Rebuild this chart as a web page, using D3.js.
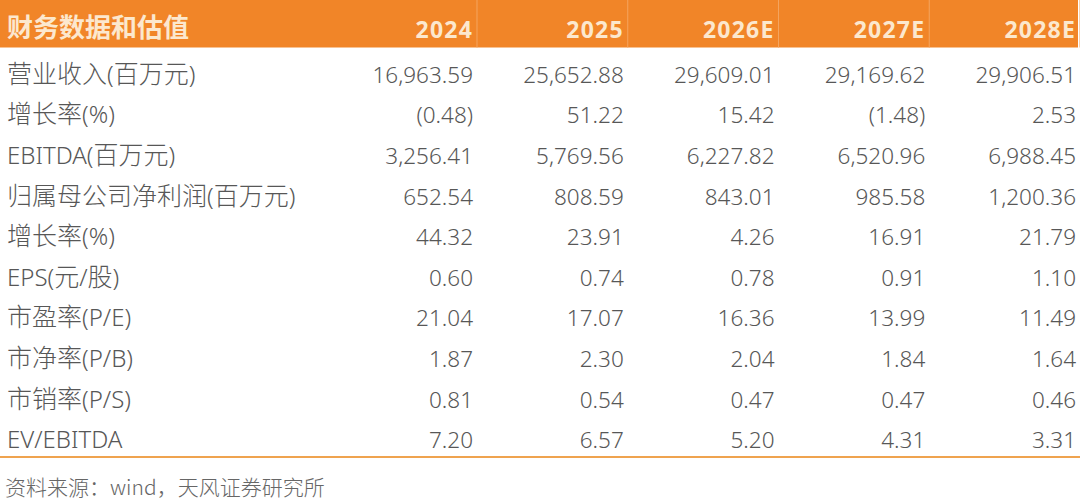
<!DOCTYPE html>
<html><head><meta charset="utf-8">
<script src="https://cdn.jsdelivr.net/npm/d3@7/dist/d3.min.js"></script>
<style>body{margin:0;background:#fff}svg{display:block}</style>
</head><body>
<svg id="c" width="1080" height="500"></svg>
<script>
const title = "财务数据和估值";
const years = ["2024","2025","2026E","2027E","2028E"];
const metrics = ["营业收入(百万元)","增长率(%)","EBITDA(百万元)","归属母公司净利润(百万元)","增长率(%)","EPS(元/股)","市盈率(P/E)","市净率(P/B)","市销率(P/S)","EV/EBITDA"];
const v2024 = ["16,963.59","(0.48)","3,256.41","652.54","44.32","0.60","21.04","1.87","0.81","7.20"];
const v2025 = ["25,652.88","51.22","5,769.56","808.59","23.91","0.74","17.07","2.30","0.54","6.57"];
const v2026 = ["29,609.01","15.42","6,227.82","843.01","4.26","0.78","16.36","2.04","0.47","5.20"];
const v2027 = ["29,169.62","(1.48)","6,520.96","985.58","16.91","0.91","13.99","1.84","0.47","4.31"];
const v2028 = ["29,906.51","2.53","6,988.45","1,200.36","21.79","1.10","11.49","1.64","0.46","3.31"];
const source = "资料来源：wind，天风证券研究所";

const cols = [v2024,v2025,v2026,v2027,v2028];
const svg = d3.select("#c");
const font = "'Noto Sans CJK SC','Noto Sans',sans-serif";
const latin = "'Noto Sans','Noto Sans CJK SC',sans-serif";
const txt = "#575757";

const xr = d3.scalePoint().domain(years).range([473,1076]);
const y = d3.scaleBand().domain(d3.range(metrics.length)).range([54.2,460.2]);
const base = i => y(i) + y.bandwidth()/2 + 8.3;

// header
svg.append("rect").attr("x",0).attr("y",0).attr("width",1078).attr("height",47.5).attr("fill","#F18528");
svg.selectAll("line.sep").data(years).join("line").attr("class","sep")
  .attr("x1",d=>xr(d)+4).attr("x2",d=>xr(d)+4).attr("y1",0).attr("y2",47.5)
  .attr("stroke","#F4A45E").attr("stroke-width",1);
svg.append("text").attr("x",7).attr("y",36.5).text(title)
  .attr("font-family",font).attr("font-size",26).attr("font-weight","bold").attr("fill","#FCE8CE");
svg.selectAll("text.yr").data(years).join("text").attr("class","yr")
  .attr("x",d=>xr(d)).attr("y",38).attr("text-anchor","end").text(d=>d)
  .attr("font-family",latin).attr("font-size",23).attr("letter-spacing",1.2).attr("font-weight","bold").attr("fill","#FCE8CE");

// row labels: CJK runs and Latin runs sized separately
function runs(s){
  const out=[]; let cur=null;
  for(const ch of s){
    const cjk=/[\u3000-\u9fff\uff00-\uffef]/.test(ch);
    if(!cur||cur.cjk!==cjk){cur={cjk,t:""};out.push(cur);}
    cur.t+=ch;
  }
  return out;
}
const lab = svg.selectAll("text.m").data(metrics).join("text").attr("class","m")
  .attr("x",7).attr("y",(d,i)=>base(i)).attr("fill",txt).attr("font-weight",300);
lab.selectAll("tspan").data(d=>runs(d)).join("tspan")
  .attr("font-family",r=>r.cjk?font:latin)
  .attr("font-size",r=>r.cjk?25:24)
  .text(r=>r.t);

years.forEach((yr,j)=>{
  svg.selectAll("text.v"+j).data(cols[j]).join("text").attr("class","v"+j)
    .attr("x",xr(yr)).attr("y",(d,i)=>base(i)).attr("text-anchor","end").text(d=>d)
    .attr("font-family",latin).attr("font-size",22.5).attr("font-weight",300).attr("fill",txt);
});

// bottom rule
svg.append("line").attr("x1",0).attr("x2",1080).attr("y1",457).attr("y2",457)
  .attr("stroke","#EFA34F").attr("stroke-width",2.2);
svg.append("text").attr("x",5).attr("y",495).text(source)
  .attr("font-family",font).attr("font-size",21).attr("font-weight",300).attr("fill","#666");
</script>
</body></html>
